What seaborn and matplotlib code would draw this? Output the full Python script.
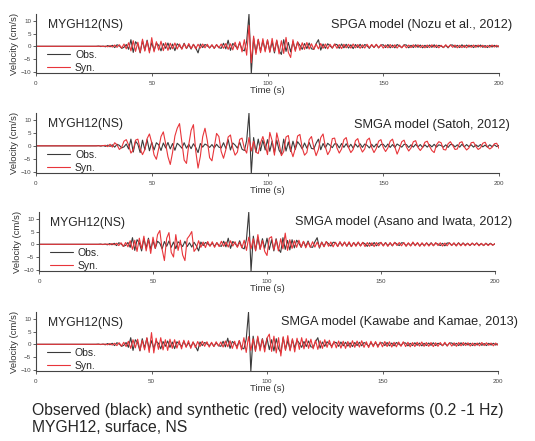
import numpy as np
import pandas as pd
import matplotlib
matplotlib.use("Agg")
import matplotlib.pyplot as plt
import seaborn as sns

sns.set_style("ticks")
plt.rcParams['font.family'] = ['Liberation Sans', 'DejaVu Sans']

# time axis in seconds (1 s sampling, 0..200)
time_s = list(range(0, 201))

obs = [
    0, 0, 0, 0, 0, 0, 0, 0, 0, 0,
    0, 0, 0, 0, 0, 0, 0, 0, 0, 0,
    0, 0, 0, 0, 0, 0, 0, 0.1, -0.1, 0.1,
    -0.2, 0.3, -0.2, 0.4, -0.5, 0.6, 0.2, -0.8, -0.4, 0.7,
    -1.2, 2.6, -2.4, 1.8, 0.6, -2.6, 2.2, -1.5, 2.4, -1.9,
    1.4, -1.6, 1.2, 0.4, -1.8, 1.1, -0.8, 1.3, -1.2, 0.9,
    -1.7, 1.0, 0.2, -0.9, 1.2, -0.9, 0.6, -1.1, 0.8, -0.6,
    -2.6, 0.9, -0.5, 0.7, 0.2, -0.6, 0.5, -0.8, 0.6, -0.5,
    -0.8, 1.2, -1.0, 2.4, -1.6, 1.1, 0.3, -0.9, 1.4, -1.3,
    -1.8, 2.0, 12.6, -10.6, 3.2, -2.4, 2.6, -1.9, 2.2, -1.6,
    2.4, -2.1, 1.8, -2.6, 2.2, -1.7, -3.2, 2.6, -2.0, 1.5,
    -2.2, 1.8, -1.4, 1.6, 0.4, -1.2, 1.1, -0.9, 1.3, -1.0,
    -1.2, 1.0, 2.6, -1.5, 0.9, -0.8, 1.0, 0.2, -0.7, 0.8,
    0.7, -0.8, 0.9, -0.6, 0.8, -0.7, 0.6, -0.9, 0.7, -0.5,
    0.8, -0.6, 0.7, 0.2, -0.8, 0.6, -0.5, 0.7, -0.6, 0.5,
    0.6, -0.5, 0.7, -0.6, 0.5, -0.6, 0.7, 0.1, -0.5, 0.6,
    0.5, -0.6, 0.4, -0.5, 0.6, -0.4, 0.5, -0.6, 0.4, -0.5,
    0.5, -0.4, 0.6, -0.5, 0.4, 0.1, -0.5, 0.4, -0.6, 0.5,
    0.5, -0.4, 0.4, -0.5, 0.6, -0.4, 0.5, -0.3, 0.4, -0.5,
    0.4, -0.3, 0.5, -0.4, 0.3, -0.5, 0.4, -0.3, 0.4, -0.3,
    0.2,
]

syn_nozu = [
    0, 0, 0, 0, 0, 0, 0, 0, 0, 0,
    0, 0, 0, 0, 0, 0, 0, 0, 0, 0,
    0, 0, 0, 0, 0, 0, 0, 0, 0.1, -0.1,
    0.1, -0.2, 0.3, -0.3, 0.5, -0.4, 0.6, -0.7, 0.9, -1.0,
    1.4, -1.8, 2.2, -2.0, 1.6, -2.4, 2.8, -1.9, 2.1, -2.6,
    3.4, -2.2, 1.8, -1.5, 2.0, -1.7, 1.4, -1.6, 1.2, -1.0,
    1.3, -1.1, 0.9, -1.2, 1.0, -0.8, 1.1, -0.9, 0.7, -1.0,
    0.8, -0.7, 0.9, -0.6, 0.8, -0.7, 0.6, -0.8, 0.7, -0.6,
    0.9, -0.8, 1.1, -1.2, 1.0, -1.4, 1.6, -1.3, 1.8, -2.2,
    2.6, -3.5, 8.2, -6.5, 4.0, -3.2, 2.8, -2.5, 3.0, -2.2,
    2.6, -2.4, 3.1, -2.0, 2.5, -3.0, 2.2, -2.8, 3.5, -2.4,
    -4.4, 2.6, -2.0, 1.8, -1.6, 1.4, -1.2, 1.5, -1.1, 1.0,
    -1.2, 0.9, -1.0, 1.1, -0.8, 0.9, -1.0, 0.8, -0.7, 0.9,
    -0.8, 0.7, -0.9, 0.8, -0.6, 0.8, -0.7, 0.9, -0.6, 0.7,
    -0.8, 0.6, -0.7, 0.8, -0.6, 0.7, -0.5, 0.8, -0.6, 0.6,
    -0.7, 0.5, -0.6, 0.7, -0.5, 0.6, -0.7, 0.5, -0.6, 0.5,
    -0.6, 0.5, -0.5, 0.6, -0.4, 0.6, -0.5, 0.4, -0.6, 0.5,
    -0.5, 0.6, -0.4, 0.5, -0.6, 0.4, -0.5, 0.6, -0.4, 0.5,
    -0.4, 0.5, -0.6, 0.4, -0.5, 0.4, -0.6, 0.5, -0.4, 0.5,
    -0.4, 0.5, -0.3, 0.4, -0.5, 0.3, -0.4, 0.5, -0.3, 0.4,
    -0.3,
]

syn_satoh = [
    0, 0, 0, 0, 0, 0, 0, 0, 0, 0,
    0, 0, 0, 0, 0, 0, 0, 0, 0, 0,
    0, 0, 0, 0, 0, 0, 0, 0, 0, 0.1,
    0.2, -0.3, 0.6, -0.5, 1.2, 0.4, -1.4, -0.6, 1.8, 2.4,
    0.3, -2.8, -1.6, 2.2, 2.6, -1.2, -3.4, -1.5, 2.8, 4.6,
    1.2, -3.5, -5.2, -1.0, 3.6, 5.4, 0.8, -4.2, -7.2, -2.5,
    3.8, 6.8, 8.6, 1.5, -5.5, -6.8, 0.5, 6.0, 8.2, -2.0,
    -8.6, -4.0, 3.5, 6.8, 2.0, -4.6, -5.8, -0.5, 4.8, 3.6,
    -2.2, -4.8, -1.5, 3.4, 4.2, -0.8, -3.6, -2.4, 2.5, 3.0,
    -1.0, -2.8, 3.2, -2.0, 1.8, -2.4, -3.0, 1.2, 3.6, 0.4,
    -3.4, 5.2, 2.0, -3.6, 5.0, 1.2, -3.8, -2.2, 3.4, 4.0,
    -1.4, -4.2, -1.0, 3.8, 4.4, -0.8, -3.6, -2.6, 2.4, 3.6,
    -0.6, -3.8, -1.4, 3.2, 4.6, -0.4, -3.4, -1.8, 2.8, 3.0,
    -0.8, -2.8, -1.2, 2.4, 3.2, -0.6, -2.6, -1.4, 2.0, 2.8,
    -0.4, -2.4, -1.2, 2.2, 3.0, -0.6, -2.6, -1.0, 1.8, 2.4,
    -0.6, -2.2, -0.8, 1.8, 2.6, -0.4, -3.2, -1.0, 1.6, 2.2,
    -0.4, -2.0, -0.8, 1.6, 2.0, -0.6, -1.8, -0.6, 1.4, 1.8,
    -0.2, -1.8, -2.6, 0.4, 1.6, 1.2, -1.4, -1.6, 0.8, 1.6,
    0.2, -1.4, -1.2, 1.2, 1.6, -0.4, -1.6, -0.8, 1.2, 1.4,
    -0.2, -1.4, -0.8, 1.0, 1.4, -0.4, -1.2, -0.6, 0.8, 1.0,
    -1.0,
]

syn_asano = [
    0, 0, 0, 0, 0, 0, 0, 0, 0, 0,
    0, 0, 0, 0, 0, 0, 0, 0, 0, 0,
    0, 0, 0, 0, 0, 0, 0, 0, 0, 0,
    0.1, -0.2, 0.3, -0.2, 0.4, -0.5, 0.6, -0.8, 0.7, -1.0,
    1.4, -2.0, 1.6, -2.8, 2.4, -1.8, 3.2, -2.6, 1.9, -3.6,
    2.8, -1.6, 3.8, 5.4, -2.0, -6.4, 2.4, 4.6, -3.2, -5.0,
    3.8, -2.4, 1.6, -4.2, -6.4, 2.2, 3.4, 5.0, -2.8, -1.6,
    1.4, -1.2, 0.9, -1.3, 1.1, -0.8, 1.0, -1.2, 0.7, -0.9,
    1.2, -0.8, 0.9, -1.1, 1.4, -0.7, 1.0, -1.2, 0.8, -1.4,
    1.6, -2.4, 2.8, -1.8, 2.2, -2.6, 3.8, -2.0, 1.5, -2.8,
    -4.4, 2.4, 3.0, -2.2, 1.8, -2.6, 2.2, -1.8, 4.4, -2.4,
    1.8, -1.6, 1.4, -1.2, 1.6, -1.1, 1.2, -1.4, 0.9, -1.2,
    1.0, -1.1, 0.9, -1.2, 0.8, -1.0, 1.1, -0.8, 0.9, -1.0,
    0.8, -0.9, 1.0, -0.7, 0.9, -0.8, 1.0, -0.9, 0.7, -0.8,
    0.9, -0.7, 0.8, -0.9, 0.7, -0.8, 0.6, -0.9, 0.7, -0.6,
    0.8, -0.7, 0.6, -0.8, 0.7, -0.6, 0.8, -0.5, 0.7, -0.6,
    0.7, -0.8, 0.6, -0.7, 0.9, -0.6, 0.7, -0.8, 0.6, -0.7,
    0.6, -0.7, 0.5, -0.6, 0.7, -0.5, 0.6, -0.7, 0.5, -0.6,
    0.6, -0.5, 0.6, -0.7, 0.5, -0.6, 0.5, -0.6, 0.4, -0.5,
    0.5, -0.4, 0.5, -0.6, 0.4, -0.5, 0.4, -0.5, 0.3, -0.4,
    0.3,
]

syn_kawabe = [
    0, 0, 0, 0, 0, 0, 0, 0, 0, 0,
    0, 0, 0, 0, 0, 0, 0, 0, 0, 0,
    0, 0, 0, 0, 0, 0, 0, 0, 0, 0,
    0.1, -0.2, 0.3, -0.3, 0.4, -0.5, 0.6, -0.7, 0.8, -0.9,
    1.2, -1.6, 1.8, -1.4, 2.0, -2.4, 1.6, -2.2, 2.6, -3.2,
    4.6, -3.4, 2.4, -2.0, 2.6, -2.2, 1.8, -2.4, 2.0, -1.6,
    1.8, -1.5, 1.4, -1.8, 1.6, -1.2, 1.4, -1.6, 1.0, -1.3,
    1.1, -0.9, 1.2, -0.8, 1.0, -1.1, 0.8, -0.9, 1.0, -0.7,
    0.9, -1.1, 1.3, -1.0, 1.4, -1.6, 1.2, -1.8, 1.5, -2.2,
    2.6, -3.2, 3.0, -2.4, 2.2, -2.8, 3.2, -2.6, 2.0, -3.0,
    2.4, 4.0, -2.8, 3.2, -3.4, 2.6, -4.6, 3.0, -2.4, 3.4,
    -2.6, 2.2, -3.0, 2.4, -2.0, 2.6, -1.8, 2.2, -1.6, 2.0,
    -1.8, 1.6, -2.0, 1.4, -1.6, 1.8, -1.2, 1.6, -1.4, 1.2,
    -1.4, 1.3, -1.5, 1.2, -1.6, 1.1, -1.3, 1.4, -1.2, 1.3,
    -1.1, 1.4, -1.2, 1.0, -1.3, 1.2, -1.0, 1.1, -1.2, 0.9,
    -1.0, 1.1, -0.9, 1.0, -1.1, 0.8, -1.0, 0.9, -0.8, 1.0,
    -0.9, 0.8, -1.0, 0.7, -0.9, 0.8, -0.7, 0.9, -0.8, 0.7,
    -0.8, 0.7, -0.9, 0.6, -0.8, 0.7, -0.6, 0.8, -0.7, 0.6,
    -0.7, 0.6, -0.8, 0.7, -0.6, 0.7, -0.5, 0.6, -0.7, 0.5,
    -0.6, 0.5, -0.6, 0.7, -0.5, 0.6, -0.4, 0.5, -0.6, 0.5,
    -0.4,
]

station_label = "MYGH12(NS)"
model_titles = [
    "SPGA model (Nozu et al., 2012)",
    "SMGA model (Satoh, 2012)",
    "SMGA model (Asano and Iwata, 2012)",
    "SMGA model (Kawabe and Kamae, 2013)",
]
syn_series = [syn_nozu, syn_satoh, syn_asano, syn_kawabe]
x_ticks = [0, 50, 100, 150, 200]
y_ticks = [-10, -5, 0, 5, 10]
caption_lines = [
    "Observed (black) and synthetic (red) velocity waveforms (0.2 -1 Hz)",
    "MYGH12, surface, NS",
]

W, H = 535, 441
fig = plt.figure(figsize=(W / 100, H / 100), dpi=100)

# axes boxes in pixels: (left, right, top, bottom)
boxes = [
    (36, 499, 14, 73),
    (36, 499, 113, 173),
    (39, 495, 212, 271),
    (36, 498, 312, 371),
]
title_pos = [(512, 25), (510, 125), (512, 222), (518, 322)]

obs_color = "#3a3a3a"
syn_color = "#e8353a"

for i, (l, r, t, b) in enumerate(boxes):
    ax = fig.add_axes([l / W, 1 - b / H, (r - l) / W, (b - t) / H])
    df = pd.DataFrame({"Time": time_s, "Obs.": obs, "Syn.": syn_series[i]})
    sns.lineplot(data=df, x="Time", y="Obs.", ax=ax, color=obs_color,
                 linewidth=0.8, label="Obs.")
    sns.lineplot(data=df, x="Time", y="Syn.", ax=ax, color=syn_color,
                 linewidth=0.8, label="Syn.")
    ax.set_xlim(0, 200)
    ax.set_ylim(-10.5, 12.7)
    ax.set_xticks(x_ticks)
    ax.set_yticks(y_ticks)
    ax.tick_params(axis="both", labelsize=4.5, length=2, width=0.6,
                   colors="#444444")
    ax.tick_params(axis="x", pad=3.5)
    ax.tick_params(axis="y", pad=1.5)
    for s in ["top", "right"]:
        ax.spines[s].set_visible(False)
    for s in ["left", "bottom"]:
        ax.spines[s].set_linewidth(0.8)
        ax.spines[s].set_color("#444444")
    ax.set_xlabel("Time (s)", fontsize=6.8, labelpad=0, color="#333333")
    ax.set_ylabel("Velocity (cm/s)", fontsize=6.8, labelpad=1, color="#333333")
    ax.text(0.025, 0.82, station_label, transform=ax.transAxes,
            fontsize=8.7, va="center", ha="left")
    leg = ax.legend(loc="lower left", bbox_to_anchor=(0.01, -0.1),
                    frameon=False, fontsize=7.5, handlelength=2.2,
                    labelspacing=0.3, borderaxespad=0.2, handletextpad=0.5)
    tx, ty = title_pos[i]
    fig.text(tx / W, 1 - ty / H, model_titles[i], fontsize=9.2,
             ha="right", va="center")

fig.text(32 / W, 1 - 411 / H, caption_lines[0], fontsize=11.3,
         ha="left", va="center")
fig.text(32 / W, 1 - 428 / H, caption_lines[1], fontsize=11.3,
         ha="left", va="center")

fig.savefig("out.png", dpi=100, facecolor="white")
